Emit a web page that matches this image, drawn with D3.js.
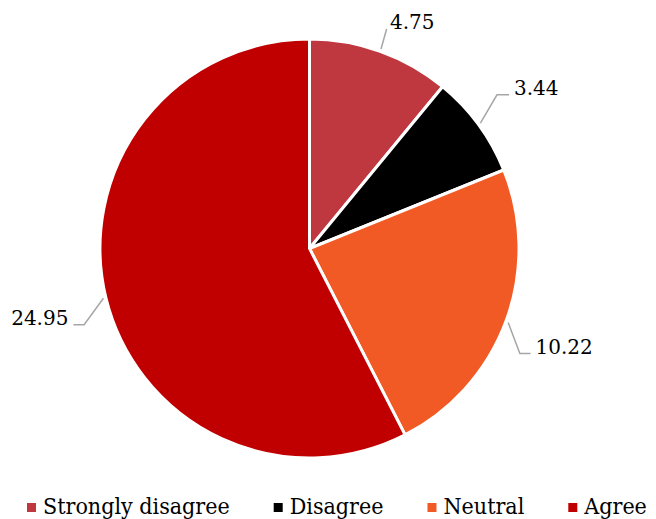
<!DOCTYPE html>
<html>
<head>
<meta charset="utf-8">
<script src="https://cdn.jsdelivr.net/npm/d3@7"></script>
<style>
  html, body { margin: 0; padding: 0; background: #fff; }
  svg { display: block; }
</style>
</head>
<body>
<svg id="chart" width="656" height="519"></svg>
<script>
const categories = ["Strongly disagree", "Disagree", "Neutral", "Agree"];
const values = [4.75, 3.44, 10.22, 24.95];
const valueLabels = ["4.75", "3.44", "10.22", "24.95"];
const colors = ["#BF3840", "#000000", "#F15A24", "#C00000"];

// label layout (leader elbow offsets relative to slice edge point, and tail length)
const elbowOffsets = [[5.6, -20], [16.6, -28.3], [11.7, 31], [-19.3, 26.4]];
const tailLengths = [0, 12, 10.7, -10.7];

const W = 656, H = 519;
const cx = 309.5, cy = 248.5, R = 209.5;
const svg = d3.select("#chart");
const labelFont = "'DejaVu Serif', serif";
const legendFont = "'DejaVu Serif Condensed', 'DejaVu Serif', serif";

const pie = d3.pie().sort(null).value(d => d);
const arcs = pie(values);
const arc = d3.arc().innerRadius(0).outerRadius(R);

const g = svg.append("g").attr("transform", `translate(${cx},${cy})`);
g.selectAll("path.slice").data(arcs).join("path")
  .attr("class", "slice")
  .attr("d", arc)
  .attr("fill", (d, i) => colors[i])
  .attr("stroke", "#fff")
  .attr("stroke-width", 3)
  .attr("stroke-linejoin", "miter");

// leader lines and labels
arcs.forEach((d, i) => {
  const a = (d.startAngle + d.endAngle) / 2;
  const r0 = R + 2.5;
  const p0 = [r0 * Math.sin(a), -r0 * Math.cos(a)];
  const p1 = [p0[0] + elbowOffsets[i][0], p0[1] + elbowOffsets[i][1]];
  const p2 = [p1[0] + tailLengths[i], p1[1]];
  g.append("path")
    .attr("d", d3.line()([p0, p1, p2]))
    .attr("fill", "none")
    .attr("stroke", "#A6A6A6")
    .attr("stroke-width", 1.5);
  const right = tailLengths[i] >= 0;
  const gap = i === 0 ? 3.4 : 5;
  g.append("text")
    .attr("x", p2[0] + (right ? gap : -gap))
    .attr("y", p2[1] + 0.5)
    .attr("text-anchor", right ? "start" : "end")
    .attr("font-family", labelFont)
    .attr("font-size", 20)
    .attr("fill", "#000")
    .text(valueLabels[i]);
});

// legend
const legend = svg.append("g");
let x = 27;
const ly = 514;
categories.forEach((c, i) => {
  legend.append("rect")
    .attr("x", x).attr("y", ly - 11).attr("width", 9).attr("height", 9)
    .attr("fill", colors[i]);
  const t = legend.append("text")
    .attr("x", x + 16).attr("y", ly)
    .attr("font-family", legendFont)
    .attr("font-size", 23)
    .attr("fill", "#000")
    .text(c);
  x += 16 + t.node().getComputedTextLength() + 44;
});
</script>
</body>
</html>
